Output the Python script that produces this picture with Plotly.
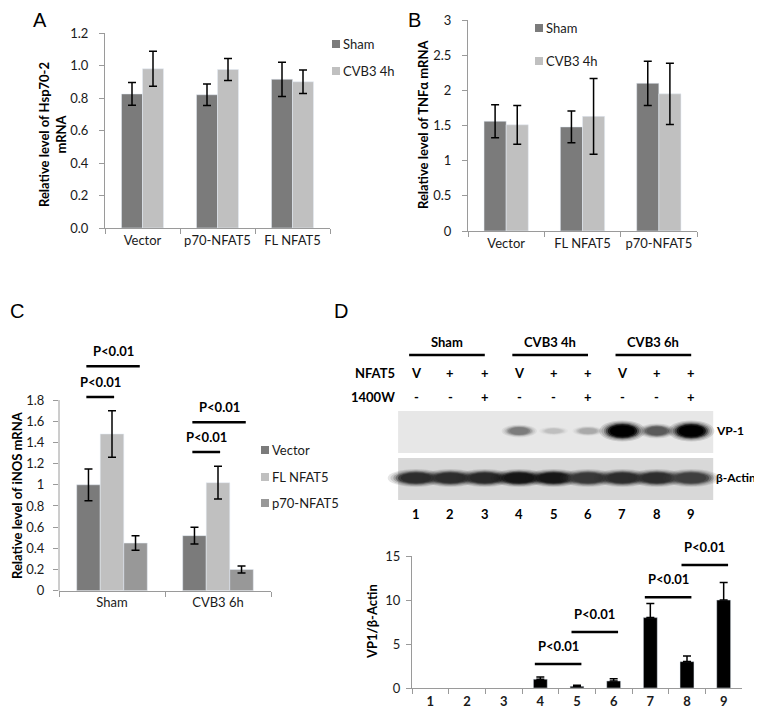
import plotly.graph_objects as go

# the page body has an 8px margin, so the figure is laid out in window pixels minus that offset
OFF = 8
W, H = 762 - OFF, 714 - OFF
FONT = "Lato"
DARK = "#7b7b7b"
LIGHT = "#c0c0c0"
MID = "#989898"
AXIS = "#9a9a9a"

# ---------------- data ----------------
# A: Hsp70-2
cats_a = ["Vector", "p70-NFAT5", "FL NFAT5"]
sham_a = [0.825, 0.82, 0.915]
sham_a_err = [0.07, 0.066, 0.105]
cvb3_a = [0.98, 0.975, 0.90]
cvb3_a_err = [0.108, 0.068, 0.073]
ticks_a = [0.0, 0.2, 0.4, 0.6, 0.8, 1.0, 1.2]

# B: TNFa
cats_b = ["Vector", "FL NFAT5", "p70-NFAT5"]
sham_b = [1.56, 1.48, 2.10]
sham_b_err = [0.235, 0.225, 0.315]
cvb3_b = [1.51, 1.63, 1.95]
cvb3_b_err = [0.275, 0.54, 0.435]
ticks_b = [0, 0.5, 1, 1.5, 2, 2.5, 3]

# C: iNOS
cats_c = ["Sham", "CVB3 6h"]
vector_c = [1.0, 0.52]
vector_c_err = [0.15, 0.08]
fl_c = [1.48, 1.02]
fl_c_err = [0.22, 0.155]
p70_c = [0.45, 0.20]
p70_c_err = [0.068, 0.033]
ticks_c = [0, 0.2, 0.4, 0.6, 0.8, 1, 1.2, 1.4, 1.6, 1.8]
# bracket heights per category: [Vector vs FL, Vector vs p70]
brackets_c = [[1.83, 2.12], [1.31, 1.59]]

# D: blot + quantification
lanes = ["1", "2", "3", "4", "5", "6", "7", "8", "9"]
groups = ["Sham", "CVB3 4h", "CVB3 6h"]
nfat5_row = ["V", "+", "+", "V", "+", "+", "V", "+", "+"]
w1400_row = ["-", "-", "+", "-", "-", "+", "-", "-", "+"]
vp1_band = [0, 0, 0, 0.45, 0.15, 0.25, 1.0, 0.6, 1.0]
actin_band = [0.8, 0.8, 0.82, 0.9, 0.9, 0.75, 0.8, 0.8, 0.72]
vp1_ratio = [0, 0, 0, 1.0, 0.2, 0.8, 8.0, 3.0, 10.0]
vp1_ratio_err = [0, 0, 0, 0.25, 0.12, 0.25, 1.6, 0.65, 2.0]
ticks_d = [0, 5, 10, 15]
# significance comparisons (lane a, lane b, bracket height)
brackets_d = [(4, 5, 2.73), (5, 6, 6.36), (7, 8, 10.3), (8, 9, 13.98)]


def px(x):
    return (x - OFF) / W


def py(y):
    return 1 - (y - OFF) / H


def xd(a, b):
    return [px(a), px(b)]


def yd(top, bottom):
    return [py(bottom), py(top)]


def err(vals):
    return dict(type="data", array=vals, color="black", thickness=1.5, width=4, visible=True)


fig = go.Figure()

# A
fig.add_trace(go.Bar(x=cats_a, y=sham_a, error_y=err(sham_a_err), marker_color=DARK,
                     width=0.28, offset=-0.28, xaxis="x", yaxis="y", showlegend=False))
fig.add_trace(go.Bar(x=cats_a, y=cvb3_a, error_y=err(cvb3_a_err), marker_color=LIGHT,
                     width=0.28, offset=0, xaxis="x", yaxis="y", showlegend=False))
# B
fig.add_trace(go.Bar(x=cats_b, y=sham_b, error_y=err(sham_b_err), marker_color=DARK,
                     width=0.29, offset=-0.29, xaxis="x2", yaxis="y2", showlegend=False))
fig.add_trace(go.Bar(x=cats_b, y=cvb3_b, error_y=err(cvb3_b_err), marker_color=LIGHT,
                     width=0.29, offset=0, xaxis="x2", yaxis="y2", showlegend=False))
# C
wc = 0.222
for vals, errs, col, k in [(vector_c, vector_c_err, DARK, -1.5), (fl_c, fl_c_err, LIGHT, -0.5),
                           (p70_c, p70_c_err, MID, 0.5)]:
    fig.add_trace(go.Bar(x=cats_c, y=vals, error_y=err(errs), marker_color=col,
                         width=wc, offset=k * wc, xaxis="x3", yaxis="y3", showlegend=False))
# D (lanes with no signal get no bar and no error cap)
d_y = [v if v > 0 else None for v in vp1_ratio]
fig.add_trace(go.Bar(x=lanes, y=d_y, error_y=dict(type="data", symmetric=False, array=vp1_ratio_err,
                                                  arrayminus=[0] * 9, color="black", thickness=1.5, width=4),
                     marker_color="black", width=0.38, offset=-0.19, xaxis="x4", yaxis="y4", showlegend=False))

tickfont = dict(family=FONT, size=13, color="#1a1a1a")


def xcat(domain, anchor, bold=False, standoff=None):
    f = dict(tickfont)
    if bold:
        f["weight"] = "bold"
    d = dict(domain=domain, anchor=anchor, type="category", showline=True, linecolor=AXIS, linewidth=1,
             ticks="outside", tickson="boundaries", ticklen=5, tickcolor=AXIS, tickangle=0,
             tickfont=f, showgrid=False, zeroline=False, fixedrange=True, automargin=False)
    if standoff is not None:
        d["ticklabelstandoff"] = standoff
    return d


def yval(domain, anchor, rng, tickvals, fmt=None, showline=True, standoff=6):
    d = dict(domain=domain, anchor=anchor, range=rng, tickvals=tickvals, showline=showline, linecolor=AXIS,
             linewidth=1, ticks="outside", ticklen=5, tickcolor=AXIS, tickfont=tickfont,
             showgrid=False, zeroline=False, ticklabelstandoff=standoff, automargin=False)
    if fmt:
        d["tickformat"] = fmt
    return d


# blot axis: lane k sits at 416 + 34.4*(k-1) window px
lane0, lane_step = 416, 34.4
blot_px = [350, 762]
blot_xr = [(p - lane0) / lane_step + 1 for p in blot_px]
blot_box = [0.48, 9.64]
blot_yr = [525, 330]
c_dom = yd(357.7, 590.7)
c_range = [0, 2.2]

fig.update_layout(
    width=W, height=H, margin=dict(l=0, r=0, t=0, b=0, autoexpand=False),
    paper_bgcolor="white", plot_bgcolor="rgba(0,0,0,0)",
    barmode="overlay", font=dict(family=FONT, color="#1a1a1a"),
    xaxis=xcat(xd(105, 330), "y"),
    yaxis=yval(yd(33, 228), "x", [0, 1.2], ticks_a, ".1f", standoff=8),
    xaxis2=xcat(xd(468, 697), "y2"),
    yaxis2=yval(yd(20, 231), "x2", [0, 3], ticks_b, standoff=8),
    xaxis3=xcat(xd(59, 271), "y3"),
    yaxis3=yval(c_dom, "x3", c_range, ticks_c, showline=False, standoff=6),
    xaxis4=xcat(xd(412, 742), "y4", bold=True, standoff=1),
    yaxis4=yval(yd(556, 688), "x4", [0, 15], ticks_d, standoff=3),
    xaxis5=dict(domain=xd(*blot_px), anchor="y5", range=blot_xr, visible=False),
    yaxis5=dict(domain=yd(330, 525), anchor="x5", range=blot_yr, visible=False),
)

shapes = []
ann = []


def note(text, x, y, xref="paper", yref="paper", xanchor="center", yanchor="middle", **kw):
    ann.append(dict(text=text, x=x, y=y, xref=xref, yref=yref, xanchor=xanchor, yanchor=yanchor,
                    showarrow=False, **kw))


# C: y axis line only up to the last tick (axis range runs higher to hold the brackets)
c_top = c_dom[0] + (c_dom[1] - c_dom[0]) * ticks_c[-1] / c_range[1]
shapes.append(dict(type="line", xref="paper", yref="paper", x0=px(59), x1=px(59), y0=c_dom[0], y1=c_top,
                   line=dict(color=AXIS, width=1)))

pfont = dict(family=FONT, size=13, color="black", weight="bold")

# C brackets
for ci, (ys, yl) in enumerate(brackets_c):
    for y, x0, x1 in [(ys, ci - 1.0 * wc - 0.02, ci + 0.02), (yl, ci - 1.0 * wc - 0.02, ci + wc + 0.04)]:
        shapes.append(dict(type="line", xref="x3", yref="y3", x0=x0, x1=x1, y0=y, y1=y,
                           line=dict(color="black", width=2.5)))
        note("P<0.01", (x0 + x1) / 2, y, "x3", "y3", yanchor="bottom", yshift=5, font=pfont)

# D brackets
for a, b, y in brackets_d:
    x0, x1 = a - 1 - 0.15, b - 1 + 0.12
    shapes.append(dict(type="line", xref="x4", yref="y4", x0=x0, x1=x1, y0=y, y1=y,
                       line=dict(color="black", width=2.5)))
    note("P<0.01", (x0 + x1) / 2, y, "x4", "y4", yanchor="bottom", yshift=8, font=pfont)

# ---- blot ----
vp_top, vp_bot, ac_top, ac_bot = 411, 453, 458, 500
shapes.append(dict(type="rect", xref="x5", yref="y5", x0=blot_box[0], x1=blot_box[1], y0=vp_top, y1=vp_bot,
                   fillcolor="#e7e7e7", line=dict(width=0), layer="above"))
shapes.append(dict(type="rect", xref="x5", yref="y5", x0=blot_box[0], x1=blot_box[1], y0=ac_top, y1=ac_bot,
                   fillcolor="#d8d8d8", line=dict(width=0), layer="above"))


def band(lane, yc, inten, w, h):
    g = int(round(225 * (1 - inten)))
    col = f"rgb({g},{g},{g})"
    for s, op in [(1.5, 0.12), (1.35, 0.15), (1.2, 0.25), (1.08, 0.4), (0.95, 0.7), (0.8, 1.0)]:
        shapes.append(dict(type="circle", xref="x5", yref="y5",
                           x0=lane - w * s / 2, x1=lane + w * s / 2,
                           y0=yc - h * s / 2, y1=yc + h * s / 2,
                           fillcolor=col, opacity=op, line=dict(width=0), layer="above"))


for i, v in enumerate(vp1_band):
    if v > 0:
        band(i + 1, 431, v, 0.5 + 0.4 * v, 4 + 10 * v)
for i, v in enumerate(actin_band):
    band(i + 1, 478, v, 1.1, 12)

bold = dict(family=FONT, size=13, color="black", weight="bold")
small_bold = dict(family=FONT, size=12, color="black", weight="bold")
for gi, g in enumerate(groups):
    l0, l1 = 3 * gi + 1 - 0.2, 3 * gi + 3
    shapes.append(dict(type="line", xref="x5", yref="y5", x0=l0, x1=l1, y0=355, y1=355,
                       line=dict(color="black", width=2.5)))
    note(g, (l0 + l1) / 2, 342, "x5", "y5", font=bold)
for i in range(9):
    note(nfat5_row[i], i + 1, 373, "x5", "y5", font=bold)
    note(w1400_row[i], i + 1, 397, "x5", "y5", font=bold)
    note(lanes[i], i + 1, 514, "x5", "y5", font=bold)
note("NFAT5", 0.45, 373, "x5", "y5", xanchor="right", font=bold)
note("1400W", 0.45, 397, "x5", "y5", xanchor="right", font=bold)
note("VP-1", 9.66, 431, "x5", "y5", xanchor="left", font=small_bold)
note("β-Actin", 9.66, 478, "x5", "y5", xanchor="left", font=small_bold)


# ---- manual legends ----
def legend(entries, xsq, ys):
    for (name, col), y in zip(entries, ys):
        shapes.append(dict(type="rect", xref="paper", yref="paper", x0=px(xsq - 4), x1=px(xsq + 4),
                           y0=py(y + 4), y1=py(y - 4), fillcolor=col, line=dict(width=0)))
        note(name, px(xsq + 5), py(y), xanchor="left", font=dict(family=FONT, size=13, color="#1a1a1a"))


legend([("Sham", DARK), ("CVB3 4h", LIGHT)], 336, [44, 71])
legend([("Sham", DARK), ("CVB3 4h", LIGHT)], 539, [28, 61])
legend([("Vector", DARK), ("FL NFAT5", LIGHT), ("p70-NFAT5", MID)], 265, [450, 477, 503])

# ---- axis titles ----
tfont = dict(family=FONT, size=13, color="black", weight="bold")
for text, x, y in [("Relative level of Hsp70-2<br>mRNA", 52, 135),
                   ("Relative level of TNFα mRNA", 423, 125),
                   ("Relative level of iNOS mRNA", 17, 495),
                   ("VP1/β-Actin", 372, 622)]:
    note(text, px(x), py(y), textangle=-90, font=tfont)

# ---- panel letters ----
for t, x, y in [("A", 40, 20), ("B", 414, 20), ("C", 17, 311), ("D", 341, 311)]:
    note(t, px(x), py(y), font=dict(family="Liberation Sans", size=20, color="black"))

fig.update_layout(shapes=shapes, annotations=ann)
fig.write_html("out.html")
